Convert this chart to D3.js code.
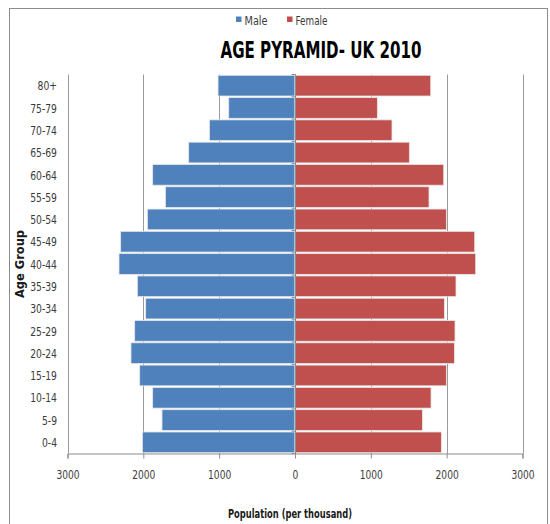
<!DOCTYPE html>
<html>
<head>
<meta charset="utf-8">
<script src="https://cdn.jsdelivr.net/npm/d3@7"></script>
<style>
  html, body { margin: 0; padding: 0; background: #fff; }
  svg { display: block; }
  text { font-family: "DejaVu Sans", sans-serif; }
</style>
</head>
<body>
<svg id="chart" width="550" height="524"></svg>
<script>
const ageGroups = ["80+", "75-79", "70-74", "65-69", "60-64", "55-59", "50-54", "45-49", "40-44",
                   "35-39", "30-34", "25-29", "20-24", "15-19", "10-14", "5-9", "0-4"];
const maleValues = [1015, 874, 1129, 1402, 1877, 1709, 1947, 2299, 2321,
                    2079, 1969, 2114, 2163, 2048, 1877, 1754, 2013];
const femaleValues = [1790, 1086, 1279, 1508, 1961, 1767, 1996, 2370, 2383,
                      2123, 1970, 2110, 2102, 1996, 1794, 1680, 1930];
const xTicks = [-3000, -2000, -1000, 0, 1000, 2000, 3000];
const seriesNames = ["Male", "Female"];
const seriesColors = ["#4F81BD", "#C0504D"];

const svg = d3.select("#chart");

// outer frame
svg.append("rect").attr("x", 9.5).attr("y", 8.5).attr("width", 538).attr("height", 530)
  .attr("fill", "none").attr("stroke", "#8c8c8c").attr("stroke-width", 1);

const x = d3.scaleLinear().domain([-3000, 3000]).range([67.5, 522.5]);
const y = d3.scaleBand().domain(ageGroups).range([74.5, 453.5]).paddingInner(0.07).paddingOuter(0.035);
const plotTop = 74.5, plotBottom = 453.5;

// vertical gridlines
svg.append("g").selectAll("line").data(xTicks).join("line")
  .attr("x1", d => Math.round(x(d)) + 0.5).attr("x2", d => Math.round(x(d)) + 0.5)
  .attr("y1", plotTop).attr("y2", plotBottom)
  .attr("stroke", "#9a9a9a").attr("stroke-width", 1);

// bars
const rows = ageGroups.map((g, i) => ({ g, m: maleValues[i], f: femaleValues[i] }));
svg.append("g").selectAll("rect").data(rows).join("rect")
  .attr("x", d => x(-d.m)).attr("width", d => x(0) - x(-d.m))
  .attr("y", d => y(d.g)).attr("height", y.bandwidth())
  .attr("fill", seriesColors[0]).attr("stroke", "#e8e8e8").attr("stroke-width", 0.8);
svg.append("g").selectAll("rect").data(rows).join("rect")
  .attr("x", x(0)).attr("width", d => x(d.f) - x(0))
  .attr("y", d => y(d.g)).attr("height", y.bandwidth())
  .attr("fill", seriesColors[1]).attr("stroke", "#e8e8e8").attr("stroke-width", 0.8);

// category axis at zero
const zx = Math.round(x(0)) + 0.5;
svg.append("line").attr("x1", zx).attr("x2", zx).attr("y1", plotTop).attr("y2", plotBottom)
  .attr("stroke", "#8c8c8c").attr("stroke-width", 1);
const boundaries = d3.range(ageGroups.length + 1).map(i => plotTop + i * (plotBottom - plotTop) / ageGroups.length);
svg.append("g").selectAll("line").data(boundaries).join("line")
  .attr("x1", zx - 4).attr("x2", zx).attr("y1", d => d).attr("y2", d => d)
  .attr("stroke", "#8c8c8c").attr("stroke-width", 1);

// category labels (left), horizontally condensed
svg.append("g").selectAll("text").data(ageGroups).join("text")
  .attr("transform", d => `translate(57,${y(d) + y.bandwidth() / 2}) scale(0.71,1)`)
  .attr("dy", "0.36em").attr("text-anchor", "end")
  .attr("font-size", 13).attr("fill", "#3a3a3a").text(d => d);

// bottom value axis
const xAxis = d3.axisBottom(x).tickValues(xTicks).tickSize(5).tickFormat(d => Math.abs(d));
const gx = svg.append("g").attr("transform", `translate(0,${plotBottom})`).call(xAxis);
gx.select(".domain").attr("stroke", "#8c8c8c");
gx.selectAll(".tick line").attr("stroke", "#8c8c8c");
gx.selectAll(".tick text").attr("font-size", 13).attr("fill", "#3a3a3a")
  .attr("y", 0).attr("dy", "0.36em")
  .attr("transform", "translate(0,21) scale(0.7,1)")
  .style("font-family", "'DejaVu Sans', sans-serif");

// axis titles
svg.append("text").attr("x", 228).attr("y", 518)
  .attr("textLength", 124).attr("lengthAdjust", "spacingAndGlyphs")
  .attr("font-size", 12.5).attr("font-weight", "bold").attr("fill", "#1a1a1a")
  .text("Population (per thousand)");
svg.append("text").attr("transform", "translate(24,298) rotate(-90)")
  .attr("textLength", 68).attr("lengthAdjust", "spacingAndGlyphs")
  .attr("font-size", 12).attr("font-weight", "bold").attr("fill", "#1a1a1a")
  .text("Age Group");

// title
svg.append("text").attr("x", 220.5).attr("y", 58.3)
  .attr("textLength", 201).attr("lengthAdjust", "spacingAndGlyphs")
  .attr("font-size", 23.3).attr("font-weight", "bold").attr("fill", "#000")
  .text("AGE PYRAMID- UK 2010");

// legend
const legendX = [236, 287];
const legendTextW = [23, 32];
const lg = svg.append("g").selectAll("g").data(seriesNames).join("g")
  .attr("transform", (d, i) => `translate(${legendX[i]},0)`);
lg.append("rect").attr("x", 0).attr("y", 16.5).attr("width", 5.5).attr("height", 5.5)
  .attr("fill", (d, i) => seriesColors[i]);
lg.append("text").attr("x", 8.5).attr("y", 24.5)
  .attr("textLength", (d, i) => legendTextW[i]).attr("lengthAdjust", "spacingAndGlyphs")
  .attr("font-size", 13).attr("fill", "#3a3a3a").text(d => d);
</script>
</body>
</html>
